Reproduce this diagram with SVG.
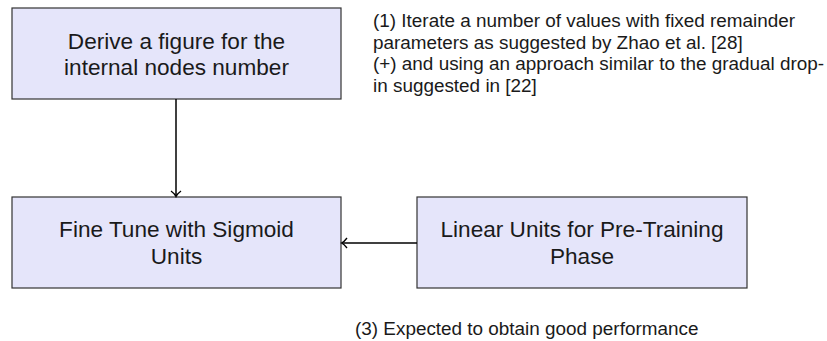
<svg xmlns="http://www.w3.org/2000/svg" width="827" height="341" viewBox="0 0 827 341">
  <style>
    .box { fill: #e5e5fa; stroke: #333333; stroke-width: 1.2; }
    .label { font-family: "Liberation Sans", Arial, sans-serif; font-size: 22.6px; fill: #1a1a1a; text-anchor: middle; }
    .note { font-family: "Liberation Sans", Arial, sans-serif; font-size: 18.9px; fill: #1a1a1a; }
    .edge { fill: none; stroke: #000000; stroke-width: 1.5; }
  </style>
  <defs>
    <marker id="tip" viewBox="-6 -6 8 12" markerWidth="8" markerHeight="12" refX="0" refY="0" orient="auto" markerUnits="userSpaceOnUse">
      <path d="M -5 -5 Q -2 -1 0.5 0 Q -2 1 -5 5" fill="none" stroke="#000" stroke-width="1.3"/>
    </marker>
  </defs>

  <rect width="827" height="341" fill="#ffffff"/>

  <g id="derive">
    <rect class="box" x="12" y="8" width="329" height="91"/>
    <text class="label" x="176.5" y="48.5">Derive a figure for the</text>
    <text class="label" x="176.5" y="75">internal nodes number</text>
  </g>

  <g id="finetune">
    <rect class="box" x="12" y="197" width="329" height="91"/>
    <text class="label" x="176.5" y="237">Fine Tune with Sigmoid</text>
    <text class="label" x="176.5" y="263.5">Units</text>
  </g>

  <g id="linear">
    <rect class="box" x="417" y="197" width="330" height="91"/>
    <text class="label" x="582" y="237">Linear Units for Pre-Training</text>
    <text class="label" x="582" y="263.5">Phase</text>
  </g>

  <g id="connectors">
    <path class="edge" d="M 176 99 L 176 196" marker-end="url(#tip)"/>
    <path class="edge" d="M 417 243 L 342 243" marker-end="url(#tip)"/>
  </g>

  <g id="notes">
    <text class="note" x="373" y="27">(1) Iterate a number of values with fixed remainder</text>
    <text class="note" x="373" y="48.5">parameters as suggested by Zhao et al. [28]</text>
    <text class="note" x="373" y="70">(+) and using an approach similar to the gradual drop-</text>
    <text class="note" x="373" y="91.5">in suggested in [22]</text>
    <text class="note" x="355" y="335">(3) Expected to obtain good performance</text>
  </g>
</svg>
